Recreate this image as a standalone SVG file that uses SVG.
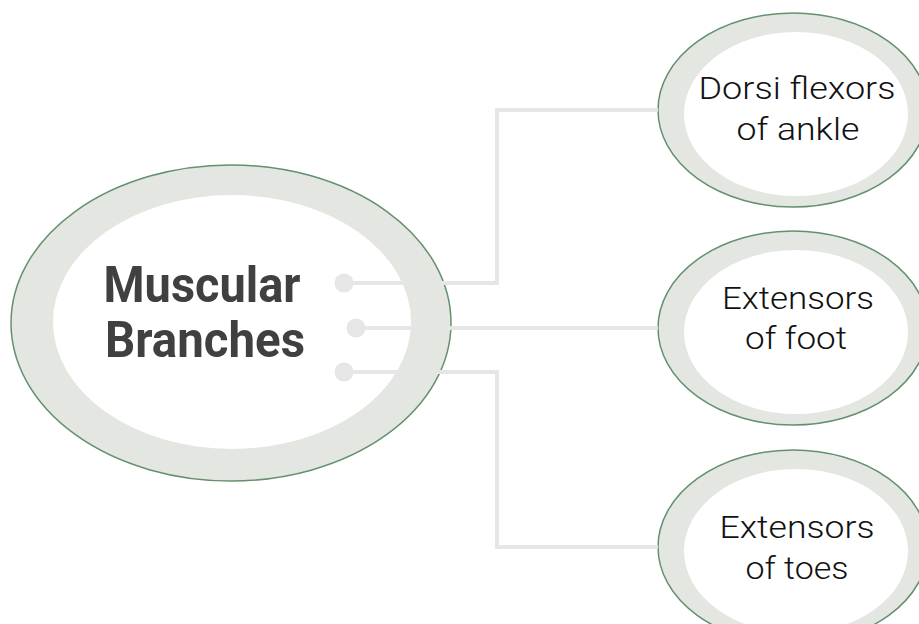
<svg xmlns="http://www.w3.org/2000/svg" width="919" height="624" viewBox="0 0 919 624">
<style>
.ring{fill:#e4e7e1;stroke:#64906f;stroke-width:1.5}
.inner{fill:#ffffff}
.conn{fill:none;stroke:#e6e6e6;stroke-width:4}
.dot{fill:#e6e6e6}
.main{font-family:Roboto,"Liberation Sans",sans-serif;font-weight:bold;font-size:50px;fill:#404040;text-anchor:middle}
.lbl{font-family:Roboto,"Liberation Sans",sans-serif;font-weight:300;font-size:31px;fill:#111111;text-anchor:middle}
</style>
<rect width="919" height="624" fill="#ffffff"/>
<g id="main-node">
<ellipse class="ring" cx="231" cy="323" rx="220" ry="158"/>
<ellipse class="inner" cx="232" cy="322" rx="179" ry="127"/>
</g>
<g id="node-dorsi">
<ellipse class="ring" cx="793" cy="110" rx="135" ry="97"/>
<ellipse class="inner" cx="796" cy="114" rx="112" ry="82"/>
<text class="lbl" x="797" y="99" textLength="197" lengthAdjust="spacingAndGlyphs">Dorsi flexors</text>
<text class="lbl" x="798" y="140" textLength="123" lengthAdjust="spacingAndGlyphs">of ankle</text>
</g>
<g id="node-foot">
<ellipse class="ring" cx="793" cy="328" rx="135" ry="97"/>
<ellipse class="inner" cx="796" cy="332" rx="112" ry="82"/>
<text class="lbl" x="798" y="309" textLength="152" lengthAdjust="spacingAndGlyphs">Extensors</text>
<text class="lbl" x="796" y="349" textLength="102" lengthAdjust="spacingAndGlyphs">of foot</text>
</g>
<g id="node-toes">
<ellipse class="ring" cx="793" cy="547" rx="135" ry="97"/>
<ellipse class="inner" cx="796" cy="551" rx="112" ry="82"/>
<text class="lbl" x="797" y="538" textLength="155" lengthAdjust="spacingAndGlyphs">Extensors</text>
<text class="lbl" x="797" y="579" textLength="103" lengthAdjust="spacingAndGlyphs">of toes</text>
</g>
<g id="connectors">
<polyline class="conn" points="344,283 497,283 497,110 658,110"/>
<polyline class="conn" points="356,328 658,328"/>
<polyline class="conn" points="344,372 497,372 497,547 658,547"/>
<circle class="dot" cx="344" cy="283" r="9.5"/>
<circle class="dot" cx="356" cy="328" r="9.5"/>
<circle class="dot" cx="344" cy="372" r="9.5"/>
</g>
<g id="main-label">
<text class="main" x="202" y="302" textLength="197" lengthAdjust="spacingAndGlyphs">Muscular</text>
<text class="main" x="205" y="357" textLength="200" lengthAdjust="spacingAndGlyphs">Branches</text>
</g>
</svg>
